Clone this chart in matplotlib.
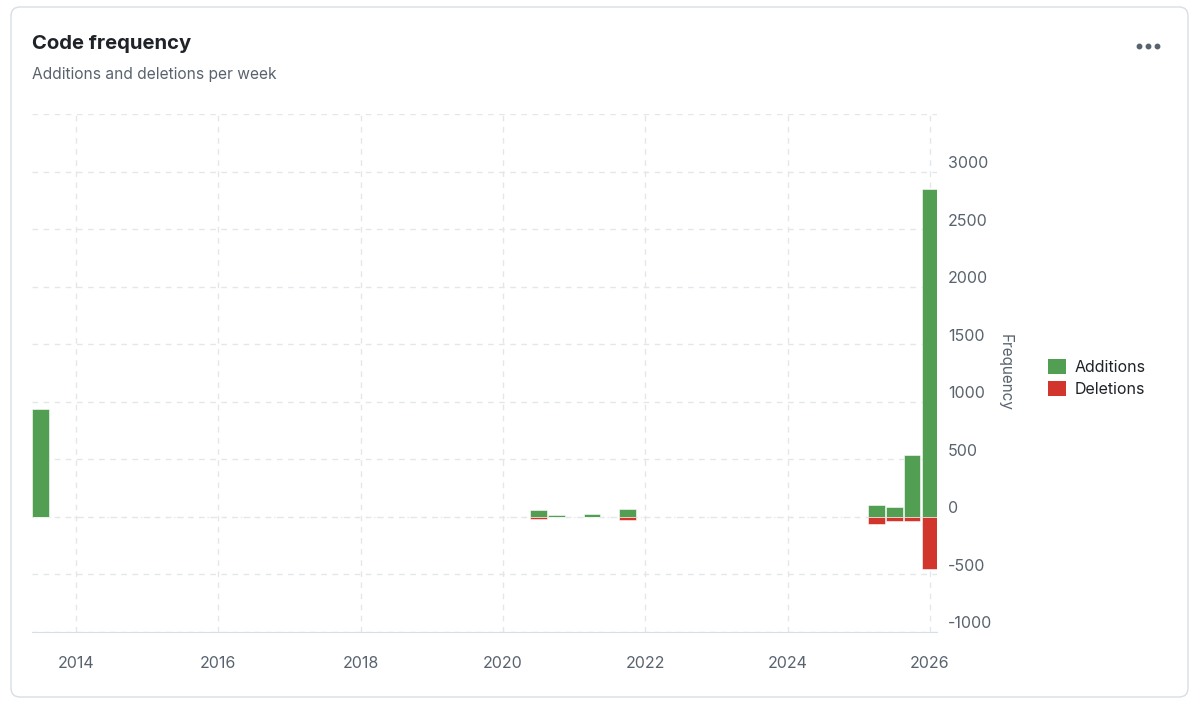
import matplotlib.pyplot as plt
from matplotlib.patches import FancyBboxPatch, Patch
from matplotlib.lines import Line2D
from matplotlib.transforms import ScaledTranslation

plt.rcParams['font.family'] = ['Inter', 'DejaVu Sans']

# Quarterly buckets (decimal year) and the sums for each
quarters = [2013.5, 2020.5, 2020.75, 2021.25, 2021.75, 2025.25, 2025.5, 2025.75, 2026.0]
additions = [935, 60, 16, 25, 70, 100, 85, 535, 2850]
deletions = [0, -22, -4, -3, -30, -65, -35, -40, -450]

year_ticks = [2014, 2016, 2018, 2020, 2022, 2024, 2026]
freq_ticks = [-1000, -500, 0, 500, 1000, 1500, 2000, 2500, 3000]

green = '#529e52'
red = '#d1352b'
grid_col = '#e3e6ea'
text_col = '#59636e'

fig = plt.figure(figsize=(12, 7.06), dpi=100)

# card frame
card = FancyBboxPatch((11, 9), 1177, 690, boxstyle='round,pad=0,rounding_size=9',
                      transform=None, facecolor='white', edgecolor='#d8dee4',
                      linewidth=1, zorder=-5)
fig.patches.append(card)

fig.text(32 / 1200, 1 - 44 / 706, 'Code frequency', fontsize=14.6, fontweight='bold',
         color='#1f2328', va='center', ha='left')
fig.text(32 / 1200, 1 - 74 / 706, 'Additions and deletions per week', fontsize=11.2,
         color=text_col, va='center', ha='left')
fig.add_artist(Line2D([1139 / 1200, 1148 / 1200, 1157 / 1200], [1 - 46 / 706] * 3,
                      marker='o', ls='none', ms=3.2, color='#59636e',
                      transform=fig.transFigure))

ax = fig.add_axes([32 / 1200, 1 - 632 / 706, (937 - 32) / 1200, (632 - 114) / 706])
ax.patch.set_alpha(0)

ax.bar(quarters, additions, width=0.235, color=green, edgecolor='white', linewidth=0.4, zorder=3)
ax.bar(quarters, deletions, width=0.235, color=red, edgecolor='white', linewidth=0.4, zorder=3)

ax.set_xlim(2013.38, 2026.1)
ax.set_ylim(-1000, 3500)

ax.set_xticks(year_ticks)
ax.set_xticklabels([str(y) for y in year_ticks])
ax.set_yticks(freq_ticks + [3500])
ax.set_yticklabels([])
ax.tick_params(axis='x', length=0, pad=17, labelsize=11.5, labelcolor=text_col)
ax.tick_params(axis='y', length=0, right=False, left=False)

ax.grid(True, color=grid_col, linestyle=(0, (4, 4)), linewidth=1, zorder=0)
ax.axhline(0, color='#e6e8eb', linestyle=(0, (1, 5)), linewidth=1, zorder=1)

for s in ['top', 'left', 'right']:
    ax.spines[s].set_visible(False)
ax.spines['bottom'].set_color('#d8dee4')

# y tick labels on the right, sitting a little above their gridlines
off = ax.get_yaxis_transform() + ScaledTranslation(11 / 100, 8 / 100, fig.dpi_scale_trans)
for v in freq_ticks:
    ax.text(1.0, v, str(v), transform=off, ha='left', va='center',
            fontsize=11.5, color=text_col)

fig.text(1005 / 1200, 1 - 373 / 706, 'Frequency', rotation=270, ha='center', va='center',
         fontsize=11, color=text_col)

handles = [Patch(facecolor=green, label='Additions'), Patch(facecolor=red, label='Deletions')]
fig.legend(handles=handles, loc='center left', bbox_to_anchor=(1034 / 1200, 1 - 378 / 706),
           frameon=False, handlelength=1.1, handleheight=1.1, handletextpad=0.55,
           labelspacing=0.35, fontsize=11.5, labelcolor='#1f2328')

plt.savefig('out.png', dpi=100)
